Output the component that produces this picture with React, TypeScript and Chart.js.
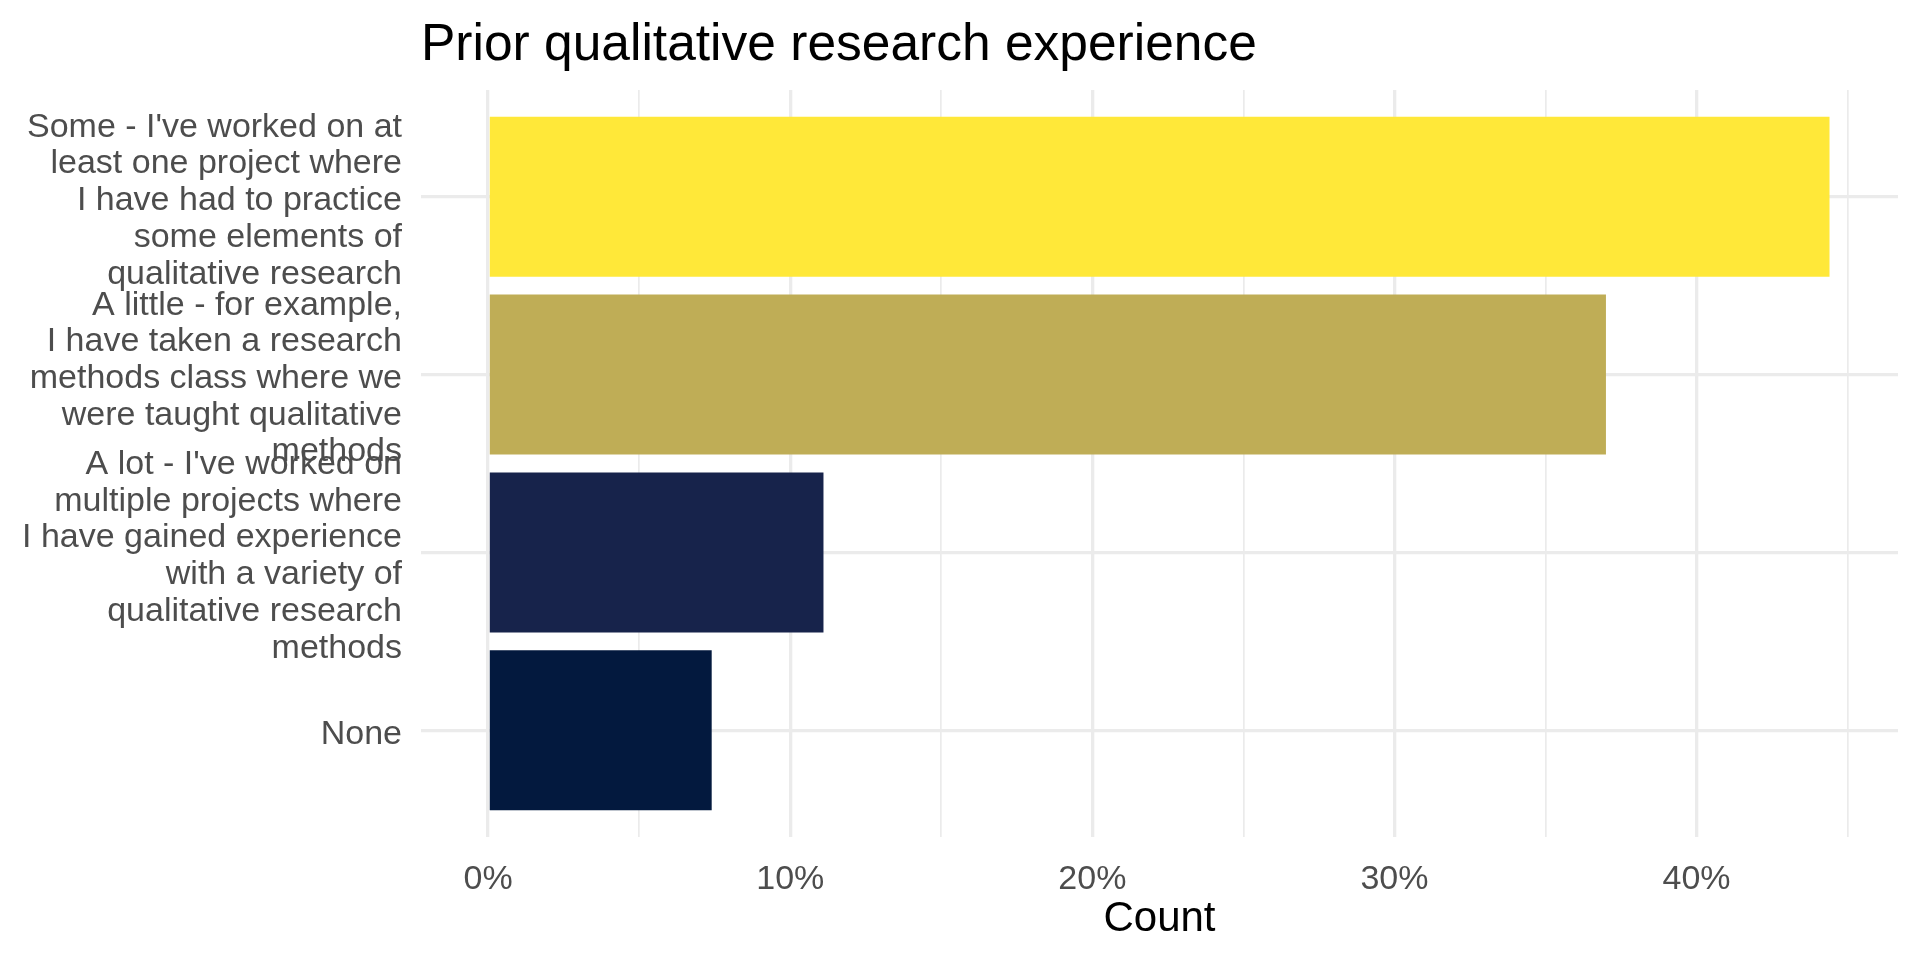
import { useEffect, useRef } from "react"
import { Chart, registerables } from "chart.js"
Chart.register(...registerables)

// answer categories, top to bottom
const categories = [
  "Some - I've worked on at least one project where I have had to practice some elements of qualitative research",
  "A little - for example, I have taken a research methods class where we were taught qualitative methods",
  "A lot - I've worked on multiple projects where I have gained experience with a variety of qualitative research methods",
  "None",
]

// wrapped labels as they appear on the axis
const categoryLines = [
  ["Some - I've worked on at", "least one project where", "I have had to practice", "some elements of", "qualitative research"],
  ["A little - for example,", "I have taken a research", "methods class where we", "were taught qualitative", "methods"],
  ["A lot - I've worked on", "multiple projects where", "I have gained experience", "with a variety of", "qualitative research", "methods"],
  ["None"],
]

// share of respondents, in percent
const shares = [44.4, 37.0, 11.1, 7.4]

const barColors = ["#FFE839", "#BFAD56", "#17234B", "#03193E"]

// x ticks: majors carry labels, minors only a grid line
const xTicks = [0, 5, 10, 15, 20, 25, 30, 35, 40, 45]

const FONT = "'Liberation Sans', Arial, Helvetica, sans-serif"
const GRID = "#EBEBEB"

export default function App() {
  const chartRef = useRef<HTMLCanvasElement>(null)
  const chartInstance = useRef<Chart | null>(null)

  useEffect(() => {
    document.body.style.margin = "0"
    if (!chartRef.current) return
    if (chartInstance.current) chartInstance.current.destroy()
    const ctx = chartRef.current.getContext("2d")
    if (!ctx) return

    chartInstance.current = new Chart(ctx, {
      type: "bar",
      data: {
        datasets: [
          {
            label: "Share",
            data: categories.map((_, i) => ({ x: shares[i], y: i + 1 })),
            backgroundColor: barColors,
            borderWidth: 0,
            barPercentage: 0.9,
            categoryPercentage: 1,
          },
        ],
      },
      options: {
        indexAxis: "y",
        responsive: true,
        maintainAspectRatio: false,
        animation: false,
        layout: { padding: { left: 0, right: 22, top: 0, bottom: 0 } },
        scales: {
          x: {
            type: "linear",
            min: -2.222,
            max: 46.667,
            offset: false,
            afterBuildTicks: (scale: any) => {
              scale.ticks = xTicks.map((v) => ({ value: v }))
            },
            afterFit: (scale: any) => {
              scale.height = 123
              scale.paddingLeft = 0
              scale.paddingRight = 0
            },
            grid: {
              color: GRID,
              offset: false,
              lineWidth: (c: any) => (c.tick && c.tick.value % 10 === 0 ? 3.3 : 1.7),
              drawTicks: false,
            },
            border: { display: false },
            ticks: {
              autoSkip: false,
              maxRotation: 0,
              padding: 22,
              color: "#4D4D4D",
              font: { family: FONT, size: 34, lineHeight: 1.2 },
              callback: (v: any) => (Number(v) % 10 === 0 ? `${v}%` : ""),
            },
            title: {
              display: true,
              text: "Count",
              color: "#000000",
              font: { family: FONT, size: 42, lineHeight: 1.2 },
              padding: { top: 0, bottom: 15.5 },
            },
          },
          y: {
            type: "linear",
            reverse: true,
            min: 0.4,
            max: 4.6,
            offset: false,
            afterBuildTicks: (scale: any) => {
              scale.ticks = categories.map((_, i) => ({ value: i + 1 }))
            },
            afterFit: (scale: any) => {
              scale.width = 421
              scale.paddingTop = 0
              scale.paddingBottom = 0
            },
            grid: { color: GRID, offset: false, lineWidth: 3.3, drawTicks: false },
            border: { display: false },
            ticks: {
              autoSkip: false,
              padding: 19,
              labelOffset: 4,
              color: "#4D4D4D",
              font: { family: FONT, size: 34, lineHeight: 1.08 },
              callback: (v: any) => categoryLines[Number(v) - 1] ?? "",
            },
          },
        },
        plugins: {
          legend: { display: false },
          tooltip: { enabled: false },
          title: {
            display: true,
            text: "Prior qualitative research experience",
            align: "start",
            fullSize: false,
            color: "#000000",
            font: { family: FONT, size: 51.5, weight: "normal", lineHeight: 1.2 },
            padding: { top: 15, bottom: 13.2 },
          },
        },
      },
    })

    return () => {
      if (chartInstance.current) {
        chartInstance.current.destroy()
        chartInstance.current = null
      }
    }
  }, [])

  return (
    <div style={{ width: 1920, height: 960, position: "relative", background: "#FFFFFF" }}>
      <canvas ref={chartRef}></canvas>
    </div>
  )
}
